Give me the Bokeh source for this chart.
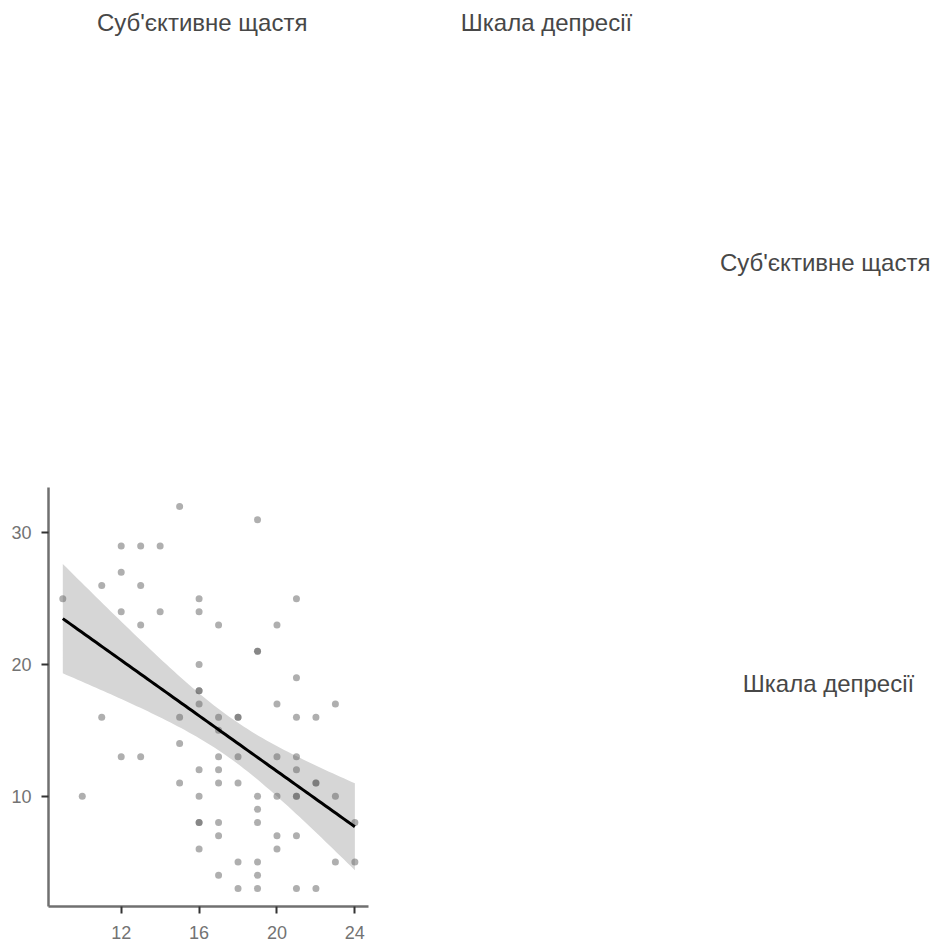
import numpy as np
from bokeh.plotting import figure
from bokeh.layouts import column, row
from bokeh.models import Range1d, FixedTicker
from bokeh.core.properties import value
from bokeh.embed import file_html
from bokeh.resources import INLINE

var_x = "Суб'єктивне  щастя"
var_y = "Шкала депресії"

# values
happiness = [9, 10, 11, 11, 12, 12, 12, 12, 13, 13, 13, 13, 14, 14, 15, 15, 15, 15,
             16, 16, 16, 16, 16, 16, 16, 16, 16, 16, 16,
             17, 17, 17, 17, 17, 17, 17, 17, 17,
             18, 18, 18, 18, 18, 18,
             19, 19, 19, 19, 19, 19, 19, 19, 19,
             20, 20, 20, 20, 20, 20,
             21, 21, 21, 21, 21, 21, 21, 21, 21,
             22, 22, 22, 22,
             23, 23, 23,
             24, 24]
depression = [25, 10, 26, 16, 29, 27, 24, 13, 29, 26, 23, 13, 29, 24, 32, 16, 14, 11,
              25, 24, 20, 18, 18, 17, 12, 10, 8, 8, 6,
              23, 16, 15, 13, 12, 11, 8, 7, 4,
              16, 16, 13, 11, 5, 3,
              31, 21, 21, 10, 9, 8, 5, 4, 3,
              23, 17, 13, 10, 7, 6,
              25, 19, 16, 13, 12, 10, 10, 7, 3,
              16, 11, 11, 3,
              17, 10, 5,
              8, 5]
x_ticks = [12, 16, 20, 24]
y_ticks = [10, 20, 30]

FONT = "Liberation Sans"

# --- linear fit with 95% CI computed from the data ---
xa = np.array(happiness, dtype=float)
ya = np.array(depression, dtype=float)
n = len(xa)
b, a = np.polyfit(xa, ya, 1)
resid = ya - (a + b * xa)
s = np.sqrt(np.sum(resid ** 2) / (n - 2))
sxx = np.sum((xa - xa.mean()) ** 2)
t_crit = 1.99
xs = np.linspace(xa.min(), xa.max(), 80)
fit = a + b * xs
se = s * np.sqrt(1.0 / n + (xs - xa.mean()) ** 2 / sxx)
lower = fit - t_crit * se
upper = fit + t_crit * se

LABEL_COLOR = "#474747"

# --- top area (labels) ---
top = figure(width=940, height=480, x_range=Range1d(0, 940), y_range=Range1d(480, 0),
             output_backend="svg", toolbar_location=None, min_border=0)
top.axis.visible = False
top.grid.visible = False
top.outline_line_color = None
top.text(x=[205, 546, 828], y=[22, 22, 262], text=[var_x, var_y, var_x],
         text_align="center", text_baseline="middle", text_font=value(FONT),
         text_font_size="24px", text_color=LABEL_COLOR)

# --- scatter ---
p = figure(width=380, height=463, x_range=Range1d(8.266, 24.70), y_range=Range1d(1.625, 33.44),
           output_backend="svg", toolbar_location=None,
           min_border_left=48, min_border_right=12, min_border_top=7, min_border_bottom=37)
p.grid.visible = False
p.outline_line_color = None
for ax in (p.xaxis[0], p.yaxis[0]):
    ax.axis_line_color = "#707070"
    ax.axis_line_width = 2.5
    ax.major_tick_line_color = "#333333"
    ax.major_tick_line_width = 2
    ax.major_tick_out = 7
    ax.major_tick_in = 0
    ax.minor_tick_line_color = None
    ax.major_label_text_font = FONT
    ax.major_label_text_font_size = "18px"
    ax.major_label_text_color = "#737373"
    ax.major_label_standoff = 10
p.xaxis.major_label_standoff = 12
p.xaxis.ticker = FixedTicker(ticks=x_ticks)
p.yaxis.ticker = FixedTicker(ticks=y_ticks)

p.varea(x=xs, y1=lower, y2=upper, fill_color="#d6d6d6", fill_alpha=1.0)
p.scatter(x=happiness, y=depression, size=7, fill_color="#606060", fill_alpha=0.5,
          line_color=None)
p.line(x=xs, y=fit, line_color="black", line_width=3)

# --- bottom right label ---
br = figure(width=560, height=463, x_range=Range1d(380, 940), y_range=Range1d(943, 480),
            output_backend="svg", toolbar_location=None, min_border=0)
br.axis.visible = False
br.grid.visible = False
br.outline_line_color = None
br.text(x=[828], y=[697], text=[var_y], text_align="center", text_baseline="middle",
        text_font=value(FONT), text_font_size="24px", text_color=LABEL_COLOR)

layout = column(top, row(p, br, spacing=0), spacing=0)
open("out.html", "w").write(file_html(layout, INLINE))
